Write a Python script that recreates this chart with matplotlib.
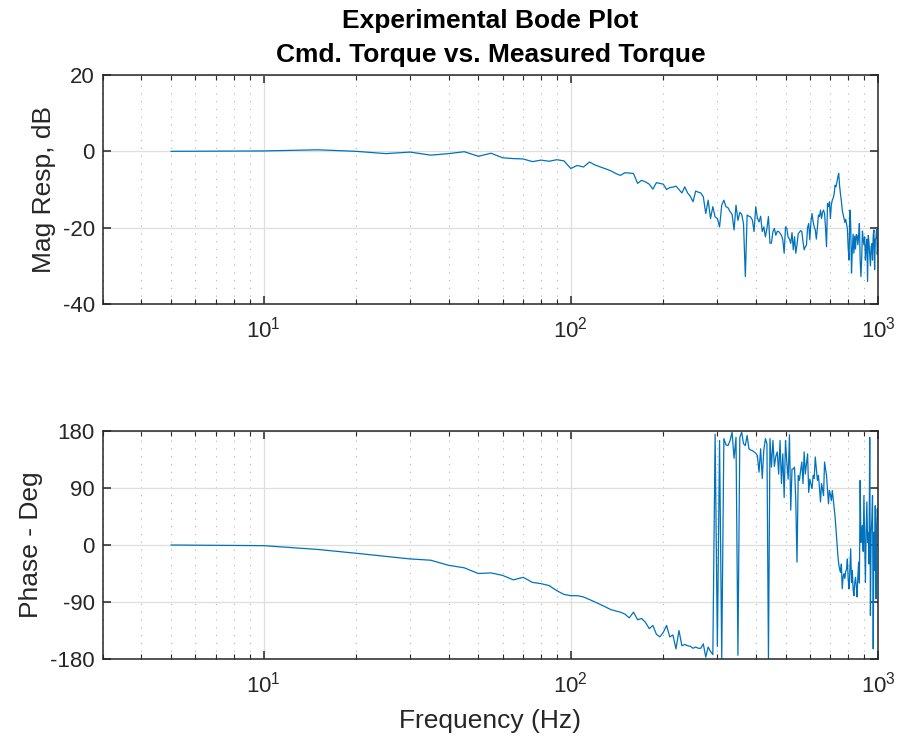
import numpy as np
import matplotlib
matplotlib.use('Agg')
import matplotlib.pyplot as plt
from matplotlib.ticker import LogLocator, NullFormatter, FixedLocator

plt.rcParams['font.family'] = ['Liberation Sans', 'DejaVu Sans']
plt.rcParams['axes.unicode_minus'] = False
plt.rcParams['mathtext.fontset'] = 'custom'
plt.rcParams['mathtext.rm'] = 'Liberation Sans'

# measured frequency grid (Hz)
freq_hz = [
    5, 10, 15, 20, 25, 30, 35, 40, 45, 50,
    55, 60, 65, 70, 75, 80, 85, 90, 95, 100,
    105, 110, 115, 120, 125, 130, 135, 140, 145, 150,
    155, 160, 165, 170, 175, 180, 185, 190, 195, 200,
    205, 210, 215, 220, 225, 230, 235, 240, 245, 250,
    255, 260, 265, 270, 275, 280, 285, 290, 295, 300,
    305, 310, 315, 320, 325, 330, 335, 340, 345, 350,
    355, 360, 365, 370, 375, 380, 385, 390, 395, 400,
    405, 410, 415, 420, 425, 430, 435, 440, 445, 450,
    455, 460, 465, 470, 475, 480, 485, 490, 495, 500,
    505, 510, 515, 520, 525, 530, 535, 540, 545, 550,
    555, 560, 565, 570, 575, 580, 585, 590, 595, 600,
    605, 610, 615, 620, 625, 630, 635, 640, 645, 650,
    655, 660, 665, 670, 675, 680, 685, 690, 695, 700,
    705, 710, 715, 720, 725, 730, 735, 740, 745, 750,
    755, 760, 765, 770, 775, 780, 785, 790, 795, 800,
    805, 810, 815, 820, 825, 830, 835, 840, 845, 850,
    855, 860, 865, 870, 875, 880, 885, 890, 895, 900,
    905, 910, 915, 920, 925, 930, 935, 940, 945, 950,
    955, 960, 965, 970, 975, 980, 985, 990, 995, 1000,
]

# magnitude response (dB)
mag_db = [
    0.0, 0.1, 0.4, 0.0, -0.6, -0.2, -1.0, -0.6, -0.1, -1.3,
    -0.5, -1.7, -1.9, -2.0, -2.7, -2.3, -2.6, -2.2, -2.5, -4.5,
    -3.7, -4.1, -2.8, -3.6, -4.1, -4.6, -5.1, -5.8, -6.3, -5.6,
    -5.7, -5.8, -8.4, -7.6, -8.0, -8.6, -9.9, -8.2, -8.4, -8.6,
    -10.0, -9.5, -9.4, -9.1, -10.0, -10.9, -9.3, -10.9, -11.8, -13.2,
    -10.4, -10.7, -10.9, -11.9, -16.3, -12.8, -17.6, -14.5, -17.2, -17.6,
    -19.8, -14.1, -12.8, -14.5, -14.8, -15.8, -16.5, -20.6, -14.1, -18.1,
    -16.0, -16.5, -19.0, -32.8, -16.7, -17.0, -17.2, -18.0, -21.0, -14.5,
    -17.5, -18.5, -17.0, -21.0, -19.8, -22.4, -20.2, -17.1, -24.1, -24.0,
    -21.0, -20.2, -22.0, -21.0, -21.0, -21.5, -22.0, -23.2, -26.7, -19.8,
    -20.2, -22.5, -23.0, -24.1, -21.3, -25.8, -22.4, -26.7, -24.5, -21.6,
    -21.2, -20.8, -21.0, -23.6, -25.8, -25.0, -24.6, -20.0, -18.9, -23.2,
    -18.5, -16.3, -18.4, -19.8, -20.6, -23.0, -20.0, -16.7, -17.1, -15.4,
    -17.6, -16.0, -15.4, -16.3, -20.0, -25.0, -13.7, -14.5, -13.2, -17.6,
    -14.0, -12.8, -12.2, -11.2, -8.9, -9.3, -8.0, -6.8, -5.8, -9.0,
    -11.2, -13.0, -15.4, -16.5, -17.6, -18.6, -17.8, -19.0, -20.2, -25.4,
    -28.5, -15.4, -18.8, -31.9, -26.0, -21.7, -26.7, -22.2, -25.6, -21.8,
    -22.0, -24.5, -22.0, -18.9, -28.5, -32.8, -28.0, -20.9, -23.0, -24.5,
    -22.4, -28.5, -25.0, -23.0, -34.1, -22.0, -24.0, -27.0, -30.0, -25.0,
    -24.2, -28.5, -22.0, -20.6, -31.0, -23.0, -22.8, -20.2, -27.0, -24.0,
]

# phase response (deg, wrapped to +/-180)
phase_deg = [
    0, -1, -7, -13, -18, -22, -24, -32, -36, -45,
    -44, -48, -55, -51, -59, -61, -64, -72, -78, -80,
    -80, -82, -86, -90, -94, -98, -102, -104, -106, -109,
    -115, -106, -118, -116, -122, -132, -127, -141, -145, -138,
    -127, -145, -142, -164, -135, -159, -157, -159, -160, -163,
    -161, -163, -163, -156, -177, -161, -168, -173, 175, -160,
    165, -179, 168, 158, 157, 165, 178, 137, 170, -174,
    170, 178, 160, 157, 173, 152, 150, 149, 147, 145,
    141, 115, 152, 105, 150, 168, 160, -180, 168, 123,
    165, 124, 140, 147, 112, 165, 97, 144, 75, 165,
    130, 104, 174, 55, 120, 120, 123, 70, -27, 110,
    102, 118, 131, 97, 147, 112, 128, 144, 83, 104,
    96, 89, 110, 105, 139, 120, 102, 110, 90, 68,
    97, 88, 78, 131, 120, 110, 88, 65, 86, 80,
    70, 86, 72, 57, 45, 25, 5, -15, -30, -38,
    -43, -30, -69, -50, -45, -53, -42, -38, -22, -55,
    -69, -40, -6, -59, -40, -70, -80, -60, -51, -65,
    -82, -50, -27, -60, 102, 4, 20, 31, -10, 78,
    10, -59, 20, 68, 4, 20, -30, 170, -111, 18,
    40, 78, -164, 20, -40, 62, -85, 30, 57, 40,
]

mag_ticks = [-40, -20, 0, 20]
phase_ticks = [-180, -90, 0, 90, 180]

line_color = '#0072BD'
axis_color = '#262626'


def style_axes(ax):
    ax.set_xscale('log')
    ax.set_xlim(3, 1000)
    ax.xaxis.set_major_locator(LogLocator(base=10))
    ax.xaxis.set_minor_locator(LogLocator(base=10, subs=np.arange(2, 10)))
    ax.xaxis.set_minor_formatter(NullFormatter())
    ax.grid(True, which='major', color='#dedede', lw=0.9)
    ax.grid(True, which='minor', axis='x', color='#b5b5b5', lw=0.8, ls=(0, (1, 6)))
    ax.set_axisbelow(True)
    ax.tick_params(which='both', direction='in', top=True, right=True,
                   color=axis_color, labelsize=16, labelcolor=axis_color)
    ax.tick_params(which='major', length=6, width=1.1)
    ax.tick_params(axis='x', which='major', pad=9)
    ax.tick_params(axis='y', which='major', pad=6)
    ax.tick_params(which='minor', length=3.5, width=0.8)
    for sp in ax.spines.values():
        sp.set_color(axis_color)
        sp.set_linewidth(1.1)


fig = plt.figure(figsize=(8.98, 7.44), dpi=100)
ax_mag = fig.add_axes([0.1147, 0.5914, 0.863, 0.3078])
ax_ph = fig.add_axes([0.1147, 0.1142, 0.863, 0.3065])

ax_mag.plot(freq_hz, mag_db, color=line_color, lw=0.9)
style_axes(ax_mag)
ax_mag.set_ylim(-40, 20)
ax_mag.yaxis.set_major_locator(FixedLocator(mag_ticks))
ax_mag.set_ylabel('Mag Resp, dB', fontsize=19, color=axis_color, labelpad=5)

ax_ph.plot(freq_hz, phase_deg, color=line_color, lw=0.9)
style_axes(ax_ph)
ax_ph.set_ylim(-180, 180)
ax_ph.yaxis.set_major_locator(FixedLocator(phase_ticks))
ax_ph.set_ylabel('Phase - Deg', fontsize=19, color=axis_color, labelpad=5)
ax_ph.set_xlabel('Frequency (Hz)', fontsize=19, color=axis_color, labelpad=8)

# title centred over the axes (axes centre at x = 490 px)
title_x = 0.5462
fig.text(title_x, 0.963, 'Experimental Bode Plot', ha='center', va='baseline',
         fontsize=19, fontweight='bold', color='black')
fig.text(title_x, 0.917, 'Cmd. Torque vs. Measured Torque', ha='center', va='baseline',
         fontsize=19, fontweight='bold', color='black')

fig.savefig('out.png', dpi=100)
